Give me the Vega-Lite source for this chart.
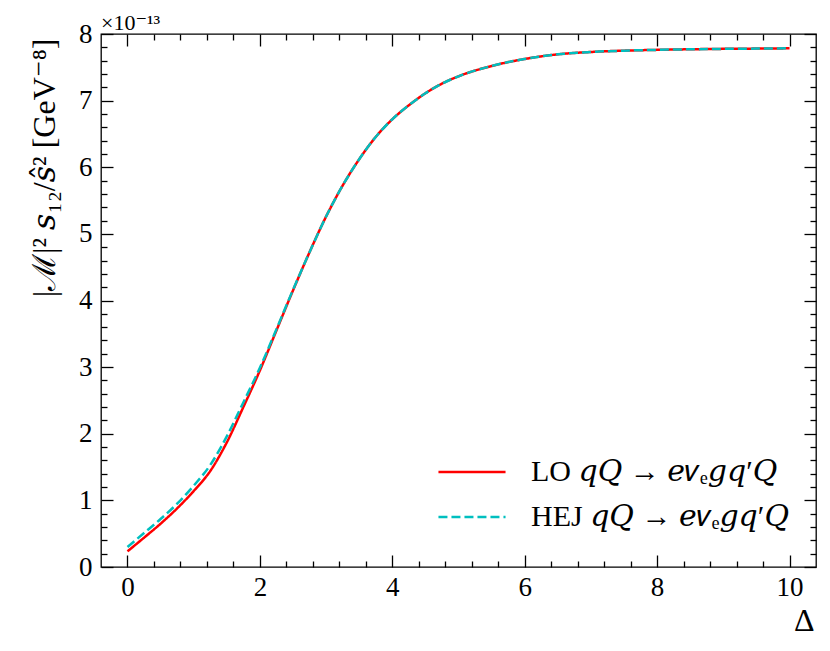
{
  "$schema": "https://vega.github.io/schema/vega-lite/v6.json",
  "width": 715,
  "height": 533,
  "autosize": {"type": "none"},
  "padding": {"left": 101, "top": 34, "right": 14, "bottom": 84},
  "background": "white",
  "title": {
    "text": "×10⁻¹³",
    "anchor": "start",
    "frame": "group",
    "fontSize": 22,
    "font": "Liberation Serif, DejaVu Serif",
    "fontWeight": "normal",
    "color": "black",
    "offset": 3,
    "dy": 18
  },
  "config": {
    "view": {"stroke": "black", "strokeWidth": 1.3},
    "axis": {
      "grid": false,
      "domain": false,
      "tickColor": "black",
      "tickWidth": 1.3,
      "labelFont": "Liberation Serif, DejaVu Serif",
      "labelFontSize": 27,
      "labelColor": "black",
      "titleFont": "Liberation Serif, DejaVu Serif",
      "titleFontWeight": "normal",
      "titleColor": "black",
      "titleFontSize": 32
    },
    "legend": {
      "title": null,
      "orient": "none",
      "legendX": 356,
      "legendY": 423,
      "padding": 0,
      "labelFont": "Liberation Serif, DejaVu Serif",
      "labelFontSize": 30,
      "labelColor": "black",
      "labelLimit": 600,
      "symbolType": "M-5,0H5",
      "symbolSize": 180,
      "symbolStrokeWidth": 2.5,
      "labelOffset": 44,
      "rowPadding": 15
    }
  },
  "datasets": {
    "curves": [
      {"series": "LO 𝑞𝑄 → 𝑒𝜈ₑ𝑔𝑞′𝑄", "delta": 0.0, "value": 0.235},
      {"series": "LO 𝑞𝑄 → 𝑒𝜈ₑ𝑔𝑞′𝑄", "delta": 0.25, "value": 0.44},
      {"series": "LO 𝑞𝑄 → 𝑒𝜈ₑ𝑔𝑞′𝑄", "delta": 0.5, "value": 0.65},
      {"series": "LO 𝑞𝑄 → 𝑒𝜈ₑ𝑔𝑞′𝑄", "delta": 0.75, "value": 0.88},
      {"series": "LO 𝑞𝑄 → 𝑒𝜈ₑ𝑔𝑞′𝑄", "delta": 1.0, "value": 1.14},
      {"series": "LO 𝑞𝑄 → 𝑒𝜈ₑ𝑔𝑞′𝑄", "delta": 1.25, "value": 1.44},
      {"series": "LO 𝑞𝑄 → 𝑒𝜈ₑ𝑔𝑞′𝑄", "delta": 1.5, "value": 1.87},
      {"series": "LO 𝑞𝑄 → 𝑒𝜈ₑ𝑔𝑞′𝑄", "delta": 1.75, "value": 2.4},
      {"series": "LO 𝑞𝑄 → 𝑒𝜈ₑ𝑔𝑞′𝑄", "delta": 2.0, "value": 2.95},
      {"series": "LO 𝑞𝑄 → 𝑒𝜈ₑ𝑔𝑞′𝑄", "delta": 2.25, "value": 3.55},
      {"series": "LO 𝑞𝑄 → 𝑒𝜈ₑ𝑔𝑞′𝑄", "delta": 2.5, "value": 4.15},
      {"series": "LO 𝑞𝑄 → 𝑒𝜈ₑ𝑔𝑞′𝑄", "delta": 2.75, "value": 4.725},
      {"series": "LO 𝑞𝑄 → 𝑒𝜈ₑ𝑔𝑞′𝑄", "delta": 3.0, "value": 5.26},
      {"series": "LO 𝑞𝑄 → 𝑒𝜈ₑ𝑔𝑞′𝑄", "delta": 3.25, "value": 5.725},
      {"series": "LO 𝑞𝑄 → 𝑒𝜈ₑ𝑔𝑞′𝑄", "delta": 3.5, "value": 6.12},
      {"series": "LO 𝑞𝑄 → 𝑒𝜈ₑ𝑔𝑞′𝑄", "delta": 3.75, "value": 6.455},
      {"series": "LO 𝑞𝑄 → 𝑒𝜈ₑ𝑔𝑞′𝑄", "delta": 4.0, "value": 6.72},
      {"series": "LO 𝑞𝑄 → 𝑒𝜈ₑ𝑔𝑞′𝑄", "delta": 4.25, "value": 6.93},
      {"series": "LO 𝑞𝑄 → 𝑒𝜈ₑ𝑔𝑞′𝑄", "delta": 4.5, "value": 7.11},
      {"series": "LO 𝑞𝑄 → 𝑒𝜈ₑ𝑔𝑞′𝑄", "delta": 4.75, "value": 7.255},
      {"series": "LO 𝑞𝑄 → 𝑒𝜈ₑ𝑔𝑞′𝑄", "delta": 5.0, "value": 7.365},
      {"series": "LO 𝑞𝑄 → 𝑒𝜈ₑ𝑔𝑞′𝑄", "delta": 5.5, "value": 7.52},
      {"series": "LO 𝑞𝑄 → 𝑒𝜈ₑ𝑔𝑞′𝑄", "delta": 6.0, "value": 7.625},
      {"series": "LO 𝑞𝑄 → 𝑒𝜈ₑ𝑔𝑞′𝑄", "delta": 6.5, "value": 7.695},
      {"series": "LO 𝑞𝑄 → 𝑒𝜈ₑ𝑔𝑞′𝑄", "delta": 7.0, "value": 7.73},
      {"series": "LO 𝑞𝑄 → 𝑒𝜈ₑ𝑔𝑞′𝑄", "delta": 7.5, "value": 7.75},
      {"series": "LO 𝑞𝑄 → 𝑒𝜈ₑ𝑔𝑞′𝑄", "delta": 8.0, "value": 7.762},
      {"series": "LO 𝑞𝑄 → 𝑒𝜈ₑ𝑔𝑞′𝑄", "delta": 8.5, "value": 7.771},
      {"series": "LO 𝑞𝑄 → 𝑒𝜈ₑ𝑔𝑞′𝑄", "delta": 9.0, "value": 7.777},
      {"series": "LO 𝑞𝑄 → 𝑒𝜈ₑ𝑔𝑞′𝑄", "delta": 9.5, "value": 7.781},
      {"series": "LO 𝑞𝑄 → 𝑒𝜈ₑ𝑔𝑞′𝑄", "delta": 10.0, "value": 7.785},
      {"series": "HEJ 𝑞𝑄 → 𝑒𝜈ₑ𝑔𝑞′𝑄", "delta": 0.0, "value": 0.3},
      {"series": "HEJ 𝑞𝑄 → 𝑒𝜈ₑ𝑔𝑞′𝑄", "delta": 0.25, "value": 0.51},
      {"series": "HEJ 𝑞𝑄 → 𝑒𝜈ₑ𝑔𝑞′𝑄", "delta": 0.5, "value": 0.72},
      {"series": "HEJ 𝑞𝑄 → 𝑒𝜈ₑ𝑔𝑞′𝑄", "delta": 0.75, "value": 0.95},
      {"series": "HEJ 𝑞𝑄 → 𝑒𝜈ₑ𝑔𝑞′𝑄", "delta": 1.0, "value": 1.22},
      {"series": "HEJ 𝑞𝑄 → 𝑒𝜈ₑ𝑔𝑞′𝑄", "delta": 1.25, "value": 1.53},
      {"series": "HEJ 𝑞𝑄 → 𝑒𝜈ₑ𝑔𝑞′𝑄", "delta": 1.5, "value": 1.96},
      {"series": "HEJ 𝑞𝑄 → 𝑒𝜈ₑ𝑔𝑞′𝑄", "delta": 1.75, "value": 2.47},
      {"series": "HEJ 𝑞𝑄 → 𝑒𝜈ₑ𝑔𝑞′𝑄", "delta": 2.0, "value": 2.99},
      {"series": "HEJ 𝑞𝑄 → 𝑒𝜈ₑ𝑔𝑞′𝑄", "delta": 2.25, "value": 3.57},
      {"series": "HEJ 𝑞𝑄 → 𝑒𝜈ₑ𝑔𝑞′𝑄", "delta": 2.5, "value": 4.16},
      {"series": "HEJ 𝑞𝑄 → 𝑒𝜈ₑ𝑔𝑞′𝑄", "delta": 2.75, "value": 4.725},
      {"series": "HEJ 𝑞𝑄 → 𝑒𝜈ₑ𝑔𝑞′𝑄", "delta": 3.0, "value": 5.26},
      {"series": "HEJ 𝑞𝑄 → 𝑒𝜈ₑ𝑔𝑞′𝑄", "delta": 3.25, "value": 5.725},
      {"series": "HEJ 𝑞𝑄 → 𝑒𝜈ₑ𝑔𝑞′𝑄", "delta": 3.5, "value": 6.12},
      {"series": "HEJ 𝑞𝑄 → 𝑒𝜈ₑ𝑔𝑞′𝑄", "delta": 3.75, "value": 6.455},
      {"series": "HEJ 𝑞𝑄 → 𝑒𝜈ₑ𝑔𝑞′𝑄", "delta": 4.0, "value": 6.72},
      {"series": "HEJ 𝑞𝑄 → 𝑒𝜈ₑ𝑔𝑞′𝑄", "delta": 4.25, "value": 6.93},
      {"series": "HEJ 𝑞𝑄 → 𝑒𝜈ₑ𝑔𝑞′𝑄", "delta": 4.5, "value": 7.11},
      {"series": "HEJ 𝑞𝑄 → 𝑒𝜈ₑ𝑔𝑞′𝑄", "delta": 4.75, "value": 7.255},
      {"series": "HEJ 𝑞𝑄 → 𝑒𝜈ₑ𝑔𝑞′𝑄", "delta": 5.0, "value": 7.365},
      {"series": "HEJ 𝑞𝑄 → 𝑒𝜈ₑ𝑔𝑞′𝑄", "delta": 5.5, "value": 7.52},
      {"series": "HEJ 𝑞𝑄 → 𝑒𝜈ₑ𝑔𝑞′𝑄", "delta": 6.0, "value": 7.625},
      {"series": "HEJ 𝑞𝑄 → 𝑒𝜈ₑ𝑔𝑞′𝑄", "delta": 6.5, "value": 7.695},
      {"series": "HEJ 𝑞𝑄 → 𝑒𝜈ₑ𝑔𝑞′𝑄", "delta": 7.0, "value": 7.73},
      {"series": "HEJ 𝑞𝑄 → 𝑒𝜈ₑ𝑔𝑞′𝑄", "delta": 7.5, "value": 7.75},
      {"series": "HEJ 𝑞𝑄 → 𝑒𝜈ₑ𝑔𝑞′𝑄", "delta": 8.0, "value": 7.762},
      {"series": "HEJ 𝑞𝑄 → 𝑒𝜈ₑ𝑔𝑞′𝑄", "delta": 8.5, "value": 7.771},
      {"series": "HEJ 𝑞𝑄 → 𝑒𝜈ₑ𝑔𝑞′𝑄", "delta": 9.0, "value": 7.777},
      {"series": "HEJ 𝑞𝑄 → 𝑒𝜈ₑ𝑔𝑞′𝑄", "delta": 9.5, "value": 7.781},
      {"series": "HEJ 𝑞𝑄 → 𝑒𝜈ₑ𝑔𝑞′𝑄", "delta": 10.0, "value": 7.785}
    ]
  },
  "data": {"name": "curves"},
  "layer": [
    {
      "mark": {"type": "line", "strokeWidth": 2.5, "interpolate": "monotone"},
      "encoding": {
        "x": {
          "field": "delta",
          "type": "quantitative",
          "scale": {"domain": [-0.4, 10.4], "nice": false, "zero": false},
          "axis": {
            "orient": "bottom",
            "values": [0, 2, 4, 6, 8, 10],
            "tickSize": -12,
            "labelPadding": 19,
            "title": "Δ",
            "titleX": 713,
            "titleY": 63,
            "titleAlign": "right",
            "titleBaseline": "alphabetic",
            "titleAngle": 0
          }
        },
        "y": {
          "field": "value",
          "type": "quantitative",
          "scale": {"domain": [0, 8], "nice": false, "zero": false},
          "axis": {
            "orient": "left",
            "values": [0, 1, 2, 3, 4, 5, 6, 7, 8],
            "tickSize": -12,
            "labelPadding": 21,
            "title": "|ℳ|² 𝑠₁₂/𝑠̂² [GeV⁻⁸]",
            "titleX": -47,
            "titleY": 4,
            "titleAngle": 270,
            "titleAlign": "right",
            "titleBaseline": "alphabetic"
          }
        },
        "color": {
          "field": "series",
          "type": "nominal",
          "sort": null,
          "scale": {
            "domain": ["LO 𝑞𝑄 → 𝑒𝜈ₑ𝑔𝑞′𝑄", "HEJ 𝑞𝑄 → 𝑒𝜈ₑ𝑔𝑞′𝑄"],
            "range": ["#ff0000", "#00bfbf"]
          },
          "legend": {"title": null}
        },
        "strokeDash": {
          "field": "series",
          "type": "nominal",
          "sort": null,
          "scale": {
            "domain": ["LO 𝑞𝑄 → 𝑒𝜈ₑ𝑔𝑞′𝑄", "HEJ 𝑞𝑄 → 𝑒𝜈ₑ𝑔𝑞′𝑄"],
            "range": [[1, 0], [9, 4]]
          },
          "legend": {"title": null}
        }
      }
    },
    {
      "mark": {"type": "point", "opacity": 0},
      "encoding": {
        "x": {
          "field": "delta",
          "type": "quantitative",
          "axis": {
            "orient": "bottom",
            "values": [0.4, 0.8, 1.2, 1.6, 2.4, 2.8, 3.2, 3.6, 4.4, 4.8, 5.2, 5.6, 6.4, 6.8, 7.2, 7.6, 8.4, 8.8, 9.2, 9.6],
            "tickSize": -6,
            "labels": false,
            "title": null
          }
        },
        "y": {
          "field": "value",
          "type": "quantitative",
          "axis": {
            "orient": "left",
            "values": [0.2, 0.4, 0.6, 0.8, 1.2, 1.4, 1.6, 1.8, 2.2, 2.4, 2.6, 2.8, 3.2, 3.4, 3.6, 3.8, 4.2, 4.4, 4.6, 4.8, 5.2, 5.4, 5.6, 5.8, 6.2, 6.4, 6.6, 6.8, 7.2, 7.4, 7.6, 7.8],
            "tickSize": -6,
            "labels": false,
            "title": null
          }
        }
      }
    },
    {
      "mark": {"type": "point", "opacity": 0},
      "encoding": {
        "x": {
          "field": "delta",
          "type": "quantitative",
          "axis": {
            "orient": "top",
            "values": [0, 2, 4, 6, 8, 10],
            "tickSize": -12,
            "labels": false,
            "title": null
          }
        },
        "y": {
          "field": "value",
          "type": "quantitative",
          "axis": {
            "orient": "right",
            "values": [0, 1, 2, 3, 4, 5, 6, 7, 8],
            "tickSize": -12,
            "labels": false,
            "title": null
          }
        }
      }
    },
    {
      "mark": {"type": "point", "opacity": 0},
      "encoding": {
        "x": {
          "field": "delta",
          "type": "quantitative",
          "axis": {
            "orient": "top",
            "values": [0.4, 0.8, 1.2, 1.6, 2.4, 2.8, 3.2, 3.6, 4.4, 4.8, 5.2, 5.6, 6.4, 6.8, 7.2, 7.6, 8.4, 8.8, 9.2, 9.6],
            "tickSize": -6,
            "labels": false,
            "title": null
          }
        },
        "y": {
          "field": "value",
          "type": "quantitative",
          "axis": {
            "orient": "right",
            "values": [0.2, 0.4, 0.6, 0.8, 1.2, 1.4, 1.6, 1.8, 2.2, 2.4, 2.6, 2.8, 3.2, 3.4, 3.6, 3.8, 4.2, 4.4, 4.6, 4.8, 5.2, 5.4, 5.6, 5.8, 6.2, 6.4, 6.6, 6.8, 7.2, 7.4, 7.6, 7.8],
            "tickSize": -6,
            "labels": false,
            "title": null
          }
        }
      }
    }
  ],
  "resolve": {"axis": {"x": "independent", "y": "independent"}}
}
